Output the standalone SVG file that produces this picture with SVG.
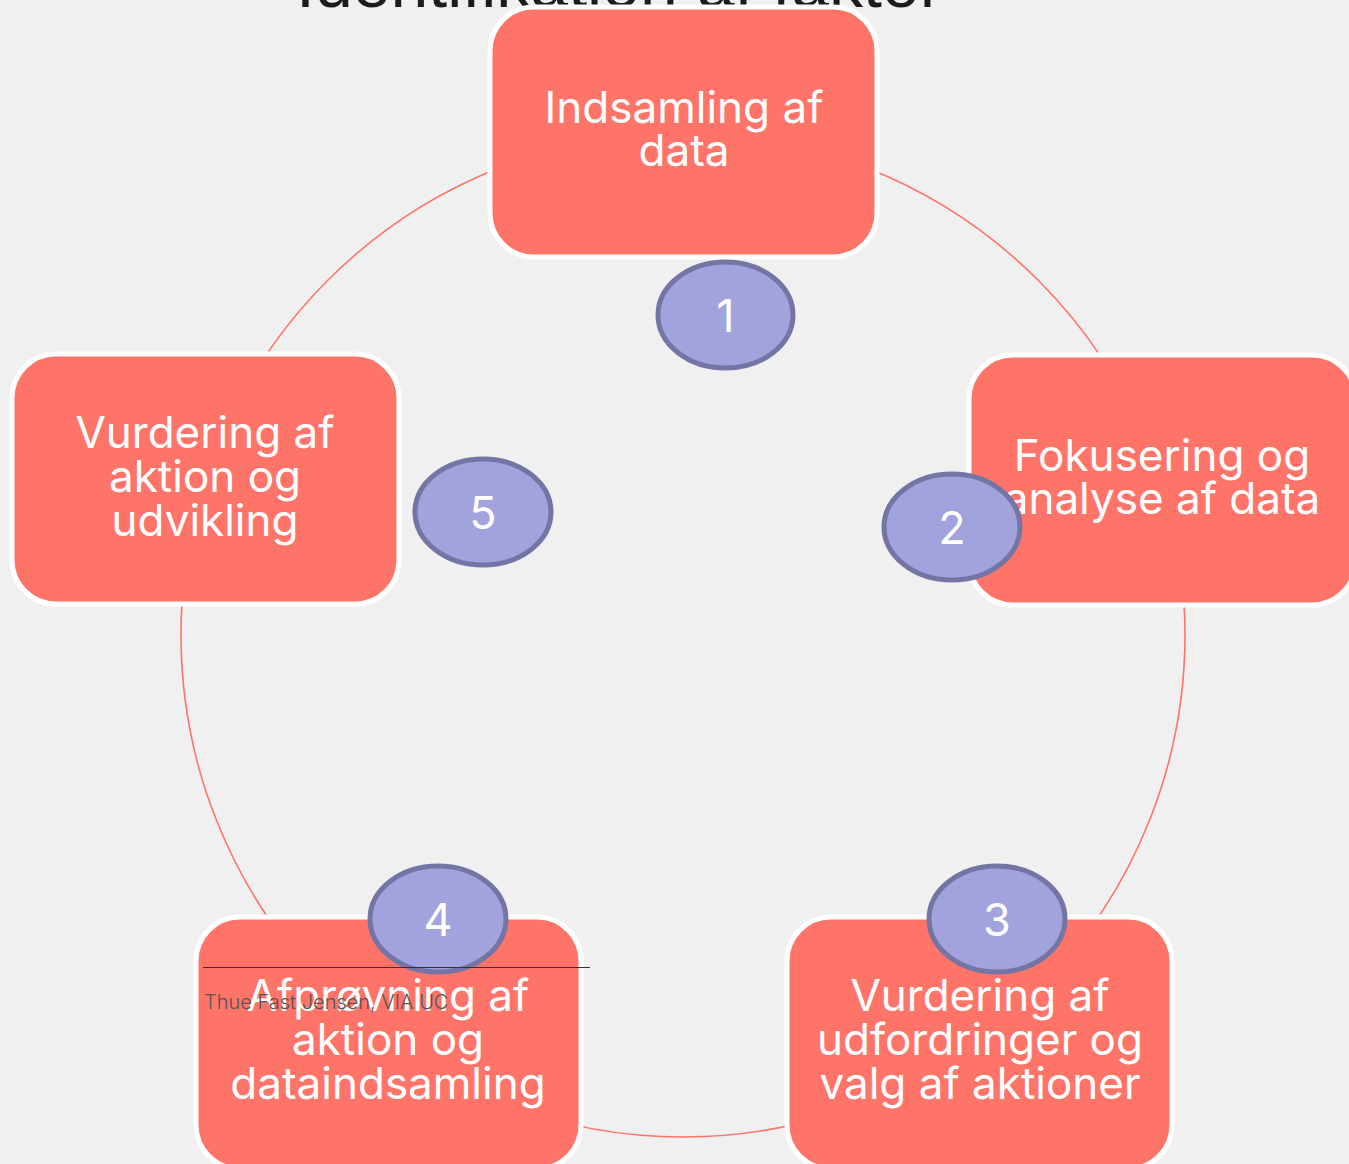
<svg xmlns="http://www.w3.org/2000/svg" width="1349" height="1164" viewBox="0 0 1349 1164">
<style>
.node{fill:#ff7469;stroke:#ffffff;stroke-width:5}
.lbl{fill:#ffffff;font-family:Inter,"Noto Sans",sans-serif;font-size:44px;text-anchor:middle}
.num{fill:#a2a2dc;stroke:#7475a5;stroke-width:5}
.numt{fill:#ffffff;font-family:Inter,"Noto Sans",sans-serif;font-size:45px;text-anchor:middle}
</style>
<rect x="0" y="0" width="1349" height="1164" fill="#f0f0f0"/>
<text x="296" y="7" font-family="'Liberation Sans',Arial,sans-serif" font-size="68" fill="#1c1c1c">Identifikation af faktor</text>
<g id="connectors">
<circle cx="683" cy="635" r="502" fill="none" stroke="#ff7469" stroke-width="1.6"/>
</g>
<g id="node1">
<rect class="node" x="490" y="7" width="387" height="250" rx="44"/>
<text class="lbl" x="684" y="123">Indsamling af</text>
<text class="lbl" x="684" y="166">data</text>
</g>
<g id="node2">
<rect class="node" x="969" y="355" width="387" height="250" rx="44"/>
<text class="lbl" x="1162" y="471">Fokusering og</text>
<text class="lbl" x="1162" y="514">analyse af data</text>
</g>
<g id="node3">
<rect class="node" x="787" y="917" width="385" height="252" rx="44"/>
<text class="lbl" x="980" y="1011">Vurdering af</text>
<text class="lbl" x="980" y="1055">udfordringer og</text>
<text class="lbl" x="980" y="1099">valg af aktioner</text>
</g>
<g id="node4">
<rect class="node" x="196" y="917" width="385" height="252" rx="44"/>
<text class="lbl" x="388" y="1011">Afprøvning af</text>
<text class="lbl" x="388" y="1055">aktion og</text>
<text class="lbl" x="388" y="1099">dataindsamling</text>
</g>
<g id="node5">
<rect class="node" x="12" y="354" width="387" height="250" rx="44"/>
<text class="lbl" x="205" y="448">Vurdering af</text>
<text class="lbl" x="205" y="492">aktion og</text>
<text class="lbl" x="205" y="536">udvikling</text>
</g>
<g id="badge1">
<ellipse class="num" cx="725.5" cy="315" rx="67.5" ry="53"/>
<text class="numt" x="725.5" y="332">1</text>
</g>
<g id="badge2">
<ellipse class="num" cx="952" cy="527" rx="68" ry="53"/>
<text class="numt" x="952" y="544">2</text>
</g>
<g id="badge3">
<ellipse class="num" cx="997" cy="919" rx="68" ry="53"/>
<text class="numt" x="997" y="936">3</text>
</g>
<g id="badge4">
<ellipse class="num" cx="438" cy="919" rx="68" ry="53"/>
<text class="numt" x="438" y="936">4</text>
</g>
<g id="badge5">
<ellipse class="num" cx="483" cy="512" rx="68" ry="53"/>
<text class="numt" x="483" y="529">5</text>
</g>
<g id="footer">
<line x1="203" y1="967.5" x2="590" y2="967.5" stroke="#333333" stroke-width="1"/>
<text x="204" y="1009" font-family="Inter,'Noto Sans',sans-serif" font-size="20" font-weight="300" fill="#555555">Thue Fast Jensen, VIA UC</text>
</g>
</svg>
